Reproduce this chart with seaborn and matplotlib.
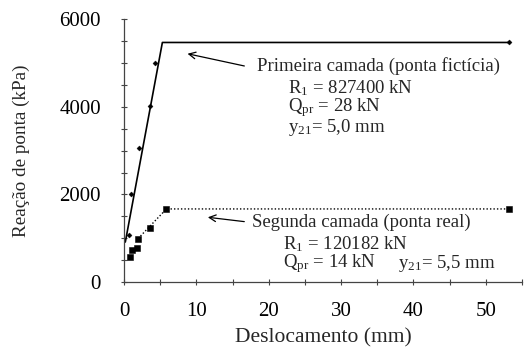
import matplotlib
matplotlib.use("Agg")
import matplotlib.pyplot as plt
import seaborn as sns
import pandas as pd
from matplotlib.ticker import MultipleLocator

# Data
x_primeira = [0.65, 0.97, 2.08, 3.55, 4.24, 53.2]
y_primeira = [1085, 2022, 3066, 4013, 5005, 5470]
x_fit1 = [0.18, 5.3, 53.2]
y_fit1 = [915, 5470, 5470]

x_segunda = [0.83, 1.1, 1.8, 1.94, 3.6, 5.86, 53.2]
y_segunda = [572, 741, 787, 993, 1245, 1670, 1670]
x_fit2 = [1.94, 5.86, 53.2]
y_fit2 = [993, 1670, 1670]

x_ticks = [0, 10, 20, 30, 40, 50]
y_ticks = [0, 2000, 4000, 6000]

sns.set_theme(style="ticks")
plt.rcParams['font.family'] = ['Liberation Serif', 'DejaVu Serif']
plt.rcParams['mathtext.fontset'] = 'custom'
plt.rcParams['mathtext.rm'] = 'Liberation Serif'
plt.rcParams['mathtext.it'] = 'Liberation Serif'

fig = plt.figure(figsize=(5.3, 3.5), dpi=100)
ax = fig.add_axes([0.234, 0.194, 0.751, 0.751])

df1 = pd.DataFrame({"x": x_fit1, "y": y_fit1})
df2 = pd.DataFrame({"x": x_fit2, "y": y_fit2})
sns.lineplot(data=df1, x="x", y="y", sort=False, color="black", lw=1.2, ax=ax)
sns.lineplot(data=df2, x="x", y="y", sort=False, color="black", lw=1.0,
             linestyle=(0, (1, 1.5)), ax=ax)
sns.scatterplot(x=x_primeira, y=y_primeira, marker="D", s=7, color="black",
                edgecolor="black", ax=ax, zorder=3)
sns.scatterplot(x=x_segunda, y=y_segunda, marker="s", s=22, color="black",
                edgecolor="black", ax=ax, zorder=3)

ax.set_xlim(0, 55)
ax.set_ylim(0, 6000)
ax.set_xticks(x_ticks)
ax.set_yticks(y_ticks)
ax.xaxis.set_minor_locator(MultipleLocator(5))
ax.yaxis.set_minor_locator(MultipleLocator(500))
ax.tick_params(axis="both", which="both", direction="inout", length=5,
               width=0.8, color="#444444", labelsize=15, labelcolor="black")
ax.tick_params(axis="x", which="major", pad=12)
ax.tick_params(axis="y", which="major", pad=14)
for s in ["top", "right"]:
    ax.spines[s].set_visible(False)
for s in ["left", "bottom"]:
    ax.spines[s].set_color("#444444")
    ax.spines[s].set_linewidth(0.9)

ax.set_xlabel("Deslocamento (mm)", fontsize=15.5, labelpad=5)
ax.set_ylabel("Reação de ponta (kPa)", fontsize=13.8, labelpad=21)

fs = 13.5
ax.annotate("", xy=(8.4, 5226), xytext=(17.0, 4920),
            arrowprops=dict(arrowstyle="->", color="black", lw=0.9))
ax.text(18.4, 4936, "Primeira camada (ponta fictícia)", fontsize=fs, va="center")
ax.text(22.7, 4425, r"R$_1$ = 827400 kN", fontsize=fs, va="center")
ax.text(22.7, 3990, r"Q$_{\rm pr}$ = 28 kN", fontsize=fs, va="center")
ax.text(22.7, 3533, r"y$_{21}$= 5,0 mm", fontsize=fs, va="center")

ax.annotate("", xy=(11.2, 1487), xytext=(17.0, 1373),
            arrowprops=dict(arrowstyle="->", color="black", lw=0.9))
ax.text(17.7, 1373, "Segunda camada (ponta real)", fontsize=fs, va="center")
ax.text(22.0, 865, r"R$_1$ = 120182 kN", fontsize=fs, va="center")
ax.text(22.0, 418, r"Q$_{\rm pr}$ = 14 kN", fontsize=fs, va="center")
ax.text(37.9, 418, r"y$_{21}$= 5,5 mm", fontsize=fs, va="center")

fig.savefig("out.png", dpi=100)
